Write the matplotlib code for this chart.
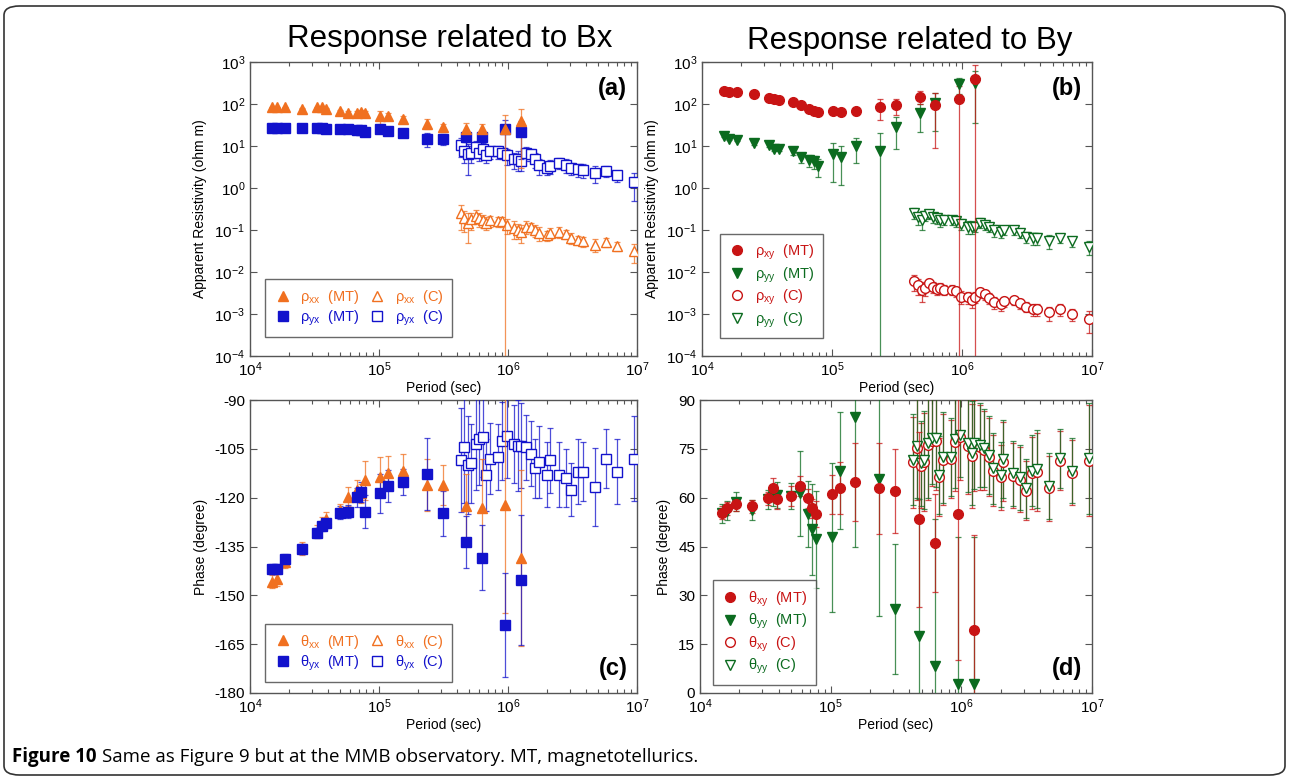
import matplotlib
matplotlib.use("Agg")
import matplotlib.pyplot as plt
from matplotlib.lines import Line2D
from matplotlib.patches import FancyBboxPatch
from matplotlib.ticker import LogLocator, NullLocator, MultipleLocator

plt.rcParams['font.family'] = ['Liberation Sans', 'DejaVu Sans']
plt.rcParams['mathtext.fontset'] = 'custom'
plt.rcParams['mathtext.rm'] = 'Liberation Sans'
plt.rcParams['axes.unicode_minus'] = False

# periods (sec) of the MT estimates and of the C-response estimates
mt_period = [14700, 16100, 18700, 25100, 32900, 35900, 38800, 49900, 57900, 67100, 72100,
             77900, 101800, 118000, 154000, 234000, 312000, 472000, 625000, 948000, 1260000]
c_period = [4.3e5, 4.6e5, 4.9e5, 5.2e5, 5.6e5, 6.0e5, 6.4e5, 6.8e5, 7.3e5, 8.4e5,
            9.0e5, 9.8e5, 1.12e6, 1.2e6, 1.25e6, 1.38e6, 1.5e6, 1.62e6, 1.75e6, 2.0e6,
            2.1e6, 2.5e6, 2.8e6, 3.1e6, 3.5e6, 3.8e6, 4.7e6, 5.7e6, 7.0e6, 9.5e6]

# (a) apparent resistivity, Bx related
rho_xx_mt = [84, 84, 84, 77, 84, 84, 78, 68, 62, 62, 64, 60, 51, 51, 43, 34, 28, 26, 25, 25, 39]
rho_xx_mt_err = [3, 3, 3, 3, 3, 3, 4, 4, 5, 8, 8, 8, 17, 10, 8, 9, 6, 9, 8, 31, 36]
rho_yx_mt = [27, 27, 27, 27, 27, 27, 26, 26, 25, 24, 24, 21, 25, 22.5, 20, 14.8, 14.8, 16.5, 16.5, 25, 22]
rho_yx_mt_err = [1.5, 1.5, 1.5, 1.5, 2, 2, 2, 2, 2, 2, 2, 2, 4, 3, 3, 5.5, 4, 4, 4, 16, 17]
rho_xx_c = [0.25, 0.19, 0.15, 0.18, 0.22, 0.19, 0.17, 0.15, 0.17, 0.16, 0.16, 0.13, 0.11, 0.10, 0.09,
            0.12, 0.12, 0.10, 0.085, 0.075, 0.085, 0.09, 0.08, 0.065, 0.058, 0.055, 0.045, 0.052, 0.042, 0.031]
rho_xx_c_err = [0.15, 0.10, 0.10, 0.08, 0.08, 0.07, 0.06, 0.05, 0.05, 0.04, 0.04, 0.05, 0.05, 0.04, 0.04,
                0.04, 0.03, 0.03, 0.03, 0.02, 0.025, 0.025, 0.02, 0.018, 0.015, 0.015, 0.015, 0.012, 0.01, 0.015]
rho_yx_c = [10.5, 7.5, 6.5, 7.0, 9.5, 7.0, 8.5, 6.0, 7.5, 7.5, 7.0, 6.0, 4.8, 5.0, 4.5,
            7.0, 6.5, 5.0, 3.5, 3.0, 3.4, 4.0, 3.6, 3.0, 2.8, 2.7, 2.3, 2.6, 2.0, 1.4]
rho_yx_c_err = [5.0, 3.5, 4.5, 3.0, 4.0, 2.5, 3.5, 2.0, 2.5, 2.5, 2.0, 2.5, 2.0, 2.5, 2.0,
                2.5, 2.0, 2.0, 1.5, 1.0, 1.2, 1.2, 1.3, 1.0, 1.0, 1.0, 1.0, 0.8, 0.6, 0.9]

# (b) apparent resistivity, By related
rho_xy_mt = [207, 195, 195, 169, 141, 131, 124, 109, 94, 77, 68, 63, 69, 65, 68, 86, 94, 149, 97, 133, 385]
rho_xy_mt_err = [8, 8, 8, 7, 6, 6, 6, 5, 5, 5, 5, 5, 10, 10, 12, 45, 40, 50, 88, 140, 465]
rho_yy_mt = [17, 15, 14.2, 11.8, 10.4, 8.7, 8.4, 7.5, 5.5, 4.6, 4.3, 3.3, 6.6, 5.5, 9.9, 7.6, 28.5, 62, 103, 293, 321]
rho_yy_mt_err = [1, 1, 1, 1, 1, 1, 1, 1.5, 1.5, 1.5, 1.5, 1.5, 5.2, 4.3, 6, 12.4, 20, 40, 80, 120, 285]
rho_xy_c = [0.0060, 0.0048, 0.0037, 0.0042, 0.0055, 0.0045, 0.0040, 0.0042, 0.0038, 0.0038,
            0.0035, 0.0026, 0.0025, 0.0022, 0.0026, 0.0033, 0.0030, 0.0024, 0.0019, 0.0017,
            0.0020, 0.0021, 0.0018, 0.0015, 0.0013, 0.0013, 0.0011, 0.0013, 0.0010, 0.00075]
rho_xy_c_err = [0.0025, 0.0020, 0.0018, 0.0015, 0.0015, 0.0014, 0.0012, 0.0012, 0.0010, 0.0010,
                0.0010, 0.0009, 0.0008, 0.0008, 0.0008, 0.0009, 0.0008, 0.0007, 0.0006, 0.0005,
                0.0005, 0.0005, 0.0005, 0.0004, 0.0004, 0.0004, 0.0004, 0.0004, 0.0003, 0.0004]
rho_yy_c = [0.26, 0.20, 0.17, 0.22, 0.24, 0.20, 0.19, 0.17, 0.17, 0.17, 0.16, 0.14, 0.12, 0.12, 0.12,
            0.15, 0.13, 0.12, 0.10, 0.09, 0.10, 0.10, 0.085, 0.07, 0.065, 0.065, 0.055, 0.065, 0.055, 0.04]
rho_yy_c_err = [0.08, 0.07, 0.07, 0.06, 0.06, 0.05, 0.05, 0.05, 0.04, 0.04, 0.04, 0.04, 0.04, 0.04, 0.03,
                0.04, 0.03, 0.03, 0.03, 0.025, 0.025, 0.025, 0.02, 0.02, 0.02, 0.02, 0.02, 0.015, 0.015, 0.015]

# (c) phase, Bx related
th_xx_mt = [-145.8, -145.1, -139.7, -135.6, -130.4, -127.9, -126.4, -123.8, -119.7, -117.7, -118.7,
            -114.6, -113.6, -112.3, -111.7, -116.1, -116.1, -122.6, -123.1, -122.3, -138.6]
th_xx_mt_err = [2, 2, 2, 2, 2, 2, 2, 2, 3, 3, 3, 6, 6, 5, 5, 8, 6, 10, 15, 33, 27]
th_yx_mt = [-142.0, -142.0, -138.8, -135.8, -130.8, -128.7, -127.9, -124.6, -124.3, -119.9, -118.2,
            -124.3, -118.7, -116.4, -115.1, -112.8, -124.8, -133.5, -138.4, -159.1, -145.3]
th_yx_mt_err = [1.5, 1.5, 1.5, 1.5, 1.5, 1.5, 1.5, 2, 2, 3, 3, 5, 6, 5, 4, 11, 7, 8, 10, 16, 20]
th_yx_c = [-108.5, -104.5, -110.0, -109.5, -103.5, -102.0, -101.5, -113.0, -108.0, -107.5,
           -102.5, -101.0, -103.5, -104.0, -104.0, -104.5, -106.5, -111.0, -109.0, -113.0,
           -108.5, -113.0, -114.0, -117.5, -112.0, -112.0, -116.8, -108.0, -112.0, -108.0]
th_yx_c_err = [16, 17, 15, 12, 14, 14, 12, 11, 11, 10, 12, 13, 12, 14, 13,
               10, 10, 9, 11, 10, 10, 10, 9, 8, 10, 9, 12, 9, 10, 13]

# (d) phase, By related
th_xy_mt = [55.4, 56.7, 58.0, 57.4, 59.8, 62.9, 59.5, 60.5, 63.6, 59.8, 56.7,
            55.0, 61.0, 62.9, 64.9, 62.9, 62.1, 53.3, 46.0, 55.0, 19.5]
th_xy_mt_err = [2, 2, 2, 2, 2, 3, 3, 3, 3, 3, 3, 4, 6, 8, 12, 14, 13, 27, 15, 45, 29]
th_yy_mt = [55.2, 56.0, 58.8, 56.2, 59.5, 60.3, 60.8, 60.5, 61.3, 55.0, 50.3,
            47.2, 47.8, 68.3, 84.7, 65.6, 25.7, 17.5, 8.3, 2.8, 2.8]
th_yy_mt_err = [3, 3, 3, 3, 3, 3, 4, 4, 13, 10, 14, 15, 23, 18, 40, 42, 20, 42, 45, 45, 45]
th_xy_c = [70.9, 75.2, 69.8, 70.9, 76.2, 77.5, 77.5, 66.3, 71.7, 71.9, 77.2, 78.5, 76.0, 72.9, 76.0,
           75.5, 74.5, 72.4, 68.3, 66.3, 71.1, 66.8, 65.5, 62.2, 67.6, 68.0, 62.9, 71.4, 67.6, 71.4]
th_yy_c = [71.6, 75.9, 70.5, 71.6, 76.9, 78.2, 78.2, 67.0, 72.4, 72.6, 77.9, 79.2, 76.7, 73.6, 76.7,
           76.2, 75.2, 73.1, 69.0, 67.0, 71.8, 67.5, 66.2, 62.9, 68.3, 68.7, 63.6, 72.1, 68.3, 72.1]
th_c_err = [14, 16, 13, 15, 17, 14, 15, 12, 14, 12, 15, 13, 15, 16, 14,
            13, 12, 12, 11, 10, 12, 10, 10, 9, 11, 12, 10, 9, 10, 17]

ORANGE = '#F07020'
BLUE = '#1212CC'
RED = '#C81414'
GREEN = '#0B6B1F'

W, H = 1290, 778
fig = plt.figure(figsize=(W / 100, H / 100), dpi=100)


def box(l, t, r, b):
    # pixel box -> figure fraction rect
    return [l / W, 1 - b / H, (r - l) / W, (b - t) / H]


ax_a = fig.add_axes(box(250, 62, 637, 356))
ax_b = fig.add_axes(box(702, 62, 1092, 356))
ax_c = fig.add_axes(box(250, 400, 637, 693))
ax_d = fig.add_axes(box(700, 400, 1092, 693))


def series(ax, x, y, err, color, marker, filled, ms=7, z=3):
    ax.errorbar(x, y, yerr=err, fmt='none', ecolor=color, elinewidth=0.9,
                capsize=2, capthick=0.9, alpha=0.75, zorder=z)
    ax.plot(x, y, linestyle='none', marker=marker, markersize=ms,
            markerfacecolor=color if filled else 'white',
            markeredgecolor=color, markeredgewidth=1.0, zorder=z + 0.5)


def style(ax, log_y):
    ax.set_xscale('log')
    ax.set_xlim(1e4, 1e7)
    ax.xaxis.set_major_locator(LogLocator(base=10, numticks=10))
    ax.xaxis.set_minor_locator(LogLocator(base=10, subs=range(2, 10), numticks=20))
    if log_y:
        ax.set_yscale('log')
        ax.set_ylim(1e-4, 1e3)
        ax.yaxis.set_major_locator(LogLocator(base=10, numticks=10))
        ax.yaxis.set_minor_locator(NullLocator())
        ax.set_ylabel('Apparent Resistivity (ohm m)', fontsize=10, labelpad=5)
    else:
        ax.yaxis.set_major_locator(MultipleLocator(15))
        ax.set_ylabel('Phase (degree)', fontsize=10, labelpad=5)
    ax.set_xlabel('Period (sec)', fontsize=10, labelpad=1)
    ax.tick_params(which='both', direction='in', top=True, right=True,
                   labelsize=11, color='#555555', width=0.8)
    ax.tick_params(which='major', length=5)
    ax.tick_params(which='minor', length=3)
    for s in ax.spines.values():
        s.set_color('#555555')
        s.set_linewidth(1.0)


def legend(ax, entries, ncol, anchor):
    handles = [Line2D([], [], linestyle='none', marker=m, markersize=ms,
                      markerfacecolor=c if f else 'white', markeredgecolor=c)
               for (_, c, m, f, ms) in entries]
    labels = [e[0] for e in entries]
    leg = ax.legend(handles, labels, ncol=ncol, loc='lower left', bbox_to_anchor=anchor,
                    frameon=True, fancybox=False, fontsize=10.5, handlelength=1.2,
                    handletextpad=0.6, columnspacing=0.6, labelspacing=0.2,
                    borderpad=0.6, borderaxespad=0)
    leg.get_frame().set_edgecolor('#444444')
    leg.get_frame().set_linewidth(1.0)
    for t, e in zip(leg.get_texts(), entries):
        t.set_color(e[1])
    return leg


# (a)
style(ax_a, True)
series(ax_a, c_period, rho_yx_c, rho_yx_c_err, BLUE, 's', False, ms=6.5)
series(ax_a, c_period, rho_xx_c, rho_xx_c_err, ORANGE, '^', False, ms=7)
series(ax_a, mt_period, rho_yx_mt, rho_yx_mt_err, BLUE, 's', True, ms=6.5, z=4)
series(ax_a, mt_period, rho_xx_mt, rho_xx_mt_err, ORANGE, '^', True, ms=7, z=4)
legend(ax_a, [('ρ$_{\\mathrm{xx}}$  (MT)', ORANGE, '^', True, 7),
              ('ρ$_{\\mathrm{yx}}$  (MT)', BLUE, 's', True, 6.5),
              ('ρ$_{\\mathrm{xx}}$  (C)', ORANGE, '^', False, 7),
              ('ρ$_{\\mathrm{yx}}$  (C)', BLUE, 's', False, 6.5)], 2, (0.04, 0.065))

# (b)
style(ax_b, True)
series(ax_b, c_period, rho_yy_c, rho_yy_c_err, GREEN, 'v', False)
series(ax_b, c_period, rho_xy_c, rho_xy_c_err, RED, 'o', False)
series(ax_b, mt_period, rho_yy_mt, rho_yy_mt_err, GREEN, 'v', True, z=4)
series(ax_b, mt_period, rho_xy_mt, rho_xy_mt_err, RED, 'o', True, z=4)
legend(ax_b, [('ρ$_{\\mathrm{xy}}$  (MT)', RED, 'o', True, 7),
              ('ρ$_{\\mathrm{yy}}$  (MT)', GREEN, 'v', True, 7),
              ('ρ$_{\\mathrm{xy}}$  (C)', RED, 'o', False, 7),
              ('ρ$_{\\mathrm{yy}}$  (C)', GREEN, 'v', False, 7)], 1, (0.046, 0.06))

# (c)
style(ax_c, False)
ax_c.set_ylim(-180, -90)
series(ax_c, c_period, th_yx_c, th_yx_c_err, BLUE, 's', False, ms=6.5)
series(ax_c, mt_period, th_xx_mt, th_xx_mt_err, ORANGE, '^', True, ms=7, z=4)
series(ax_c, mt_period, th_yx_mt, th_yx_mt_err, BLUE, 's', True, ms=6.5, z=4)
legend(ax_c, [('θ$_{\\mathrm{xx}}$  (MT)', ORANGE, '^', True, 7),
              ('θ$_{\\mathrm{yx}}$  (MT)', BLUE, 's', True, 6.5),
              ('θ$_{\\mathrm{xx}}$  (C)', ORANGE, '^', False, 7),
              ('θ$_{\\mathrm{yx}}$  (C)', BLUE, 's', False, 6.5)], 2, (0.04, 0.038))

# (d)
style(ax_d, False)
ax_d.set_ylim(0, 90)
series(ax_d, c_period, th_xy_c, th_c_err, RED, 'o', False)
series(ax_d, c_period, th_yy_c, th_c_err, GREEN, 'v', False)
series(ax_d, mt_period, th_yy_mt, th_yy_mt_err, GREEN, 'v', True, z=4)
series(ax_d, mt_period, th_xy_mt, th_xy_mt_err, RED, 'o', True, z=4)
legend(ax_d, [('θ$_{\\mathrm{xy}}$  (MT)', RED, 'o', True, 7),
              ('θ$_{\\mathrm{yy}}$  (MT)', GREEN, 'v', True, 7),
              ('θ$_{\\mathrm{xy}}$  (C)', RED, 'o', False, 7),
              ('θ$_{\\mathrm{yy}}$  (C)', GREEN, 'v', False, 7)], 1, (0.033, 0.027))

# panel letters
for ax, lab, y in [(ax_a, '(a)', 0.91), (ax_b, '(b)', 0.91), (ax_c, '(c)', 0.085), (ax_d, '(d)', 0.085)]:
    ax.text(0.975, y, lab, transform=ax.transAxes, ha='right', va='center',
            fontsize=17, fontweight='bold', zorder=10)

# column headings
fig.text(450 / W, 1 - 39 / H, 'Response related to Bx', ha='center', va='center',
         fontsize=22.5)
fig.text(910 / W, 1 - 41 / H, 'Response related to By', ha='center', va='center',
         fontsize=22.5)

# rounded frame and caption
fig.patches.append(FancyBboxPatch((4 / W, 3 / H), 1 - 9 / W, 1 - 9 / H,
                                  boxstyle='round,pad=0,rounding_size=0.012',
                                  transform=fig.transFigure, fill=False,
                                  edgecolor='#333333', linewidth=1.2))
cap1 = fig.text(12 / W, 1 - 757 / H, 'Figure 10', ha='left', va='center', fontsize=13.5,
                fontweight='bold', family=['Open Sans', 'DejaVu Sans'])
renderer = fig.canvas.get_renderer()
bb = cap1.get_window_extent(renderer)
fig.text((bb.x1 + 5) / W, 1 - 757 / H,
         'Same as Figure 9 but at the MMB observatory. MT, magnetotellurics.',
         ha='left', va='center', fontsize=13.5, family=['Open Sans', 'DejaVu Sans'])

fig.savefig('out.png', dpi=100)
